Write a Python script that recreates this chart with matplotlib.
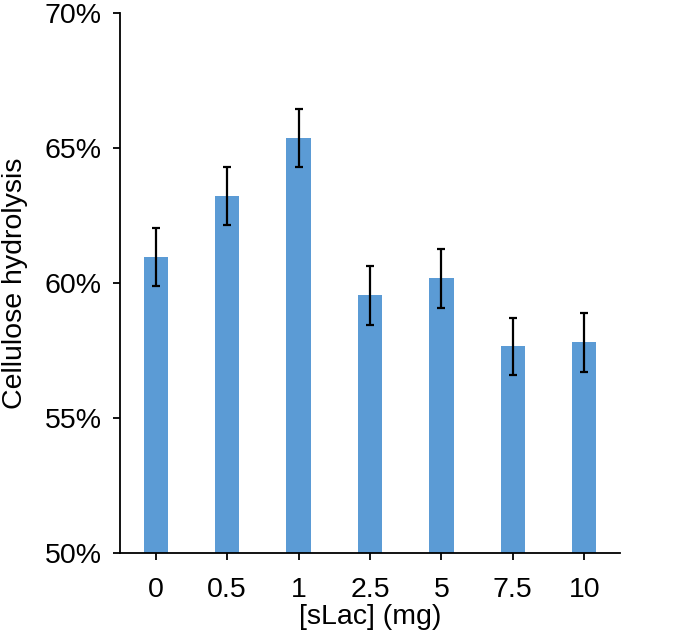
import matplotlib.pyplot as plt
from matplotlib.ticker import FuncFormatter

plt.rcParams['font.family'] = ['Liberation Sans', 'DejaVu Sans']

# data
doses = ["0", "0.5", "1", "2.5", "5", "7.5", "10"]
hydrolysis = [60.95, 63.23, 65.36, 59.54, 60.17, 57.65, 57.8]
errors = [1.07, 1.07, 1.07, 1.08, 1.08, 1.07, 1.1]

fig = plt.figure(figsize=(7.0, 6.34), dpi=100)
ax = fig.add_axes([120 / 700, 1 - 553 / 634, 500 / 700, 540 / 634])

x = range(len(doses))
ax.bar(x, hydrolysis, width=0.34, color='#5B9BD5', zorder=2)
ax.errorbar(x, hydrolysis, yerr=errors, fmt='none', ecolor='black',
            elinewidth=1.6, capsize=3, capthick=1.6, zorder=3)

ax.set_xlim(-0.5, len(doses) - 0.5)
ax.set_ylim(50, 70)
ax.set_yticks([50, 55, 60, 65, 70])
ax.yaxis.set_major_formatter(FuncFormatter(lambda v, p: f"{v:.0f}%"))
ax.set_xticks(list(x))
ax.set_xticklabels(doses)

for side in ('top', 'right'):
    ax.spines[side].set_visible(False)
for side in ('left', 'bottom'):
    ax.spines[side].set_linewidth(1.3)
ax.tick_params(axis='both', direction='out', length=5, width=1.3,
               labelsize=20.5, colors='black')
ax.tick_params(axis='y', pad=8)
ax.tick_params(axis='x', pad=12)

ax.set_xlabel("[sLac] (mg)", fontsize=20.5, labelpad=1)
ax.set_ylabel("Cellulose hydrolysis", fontsize=20.5, labelpad=12)

fig.savefig("out.png", dpi=100)
